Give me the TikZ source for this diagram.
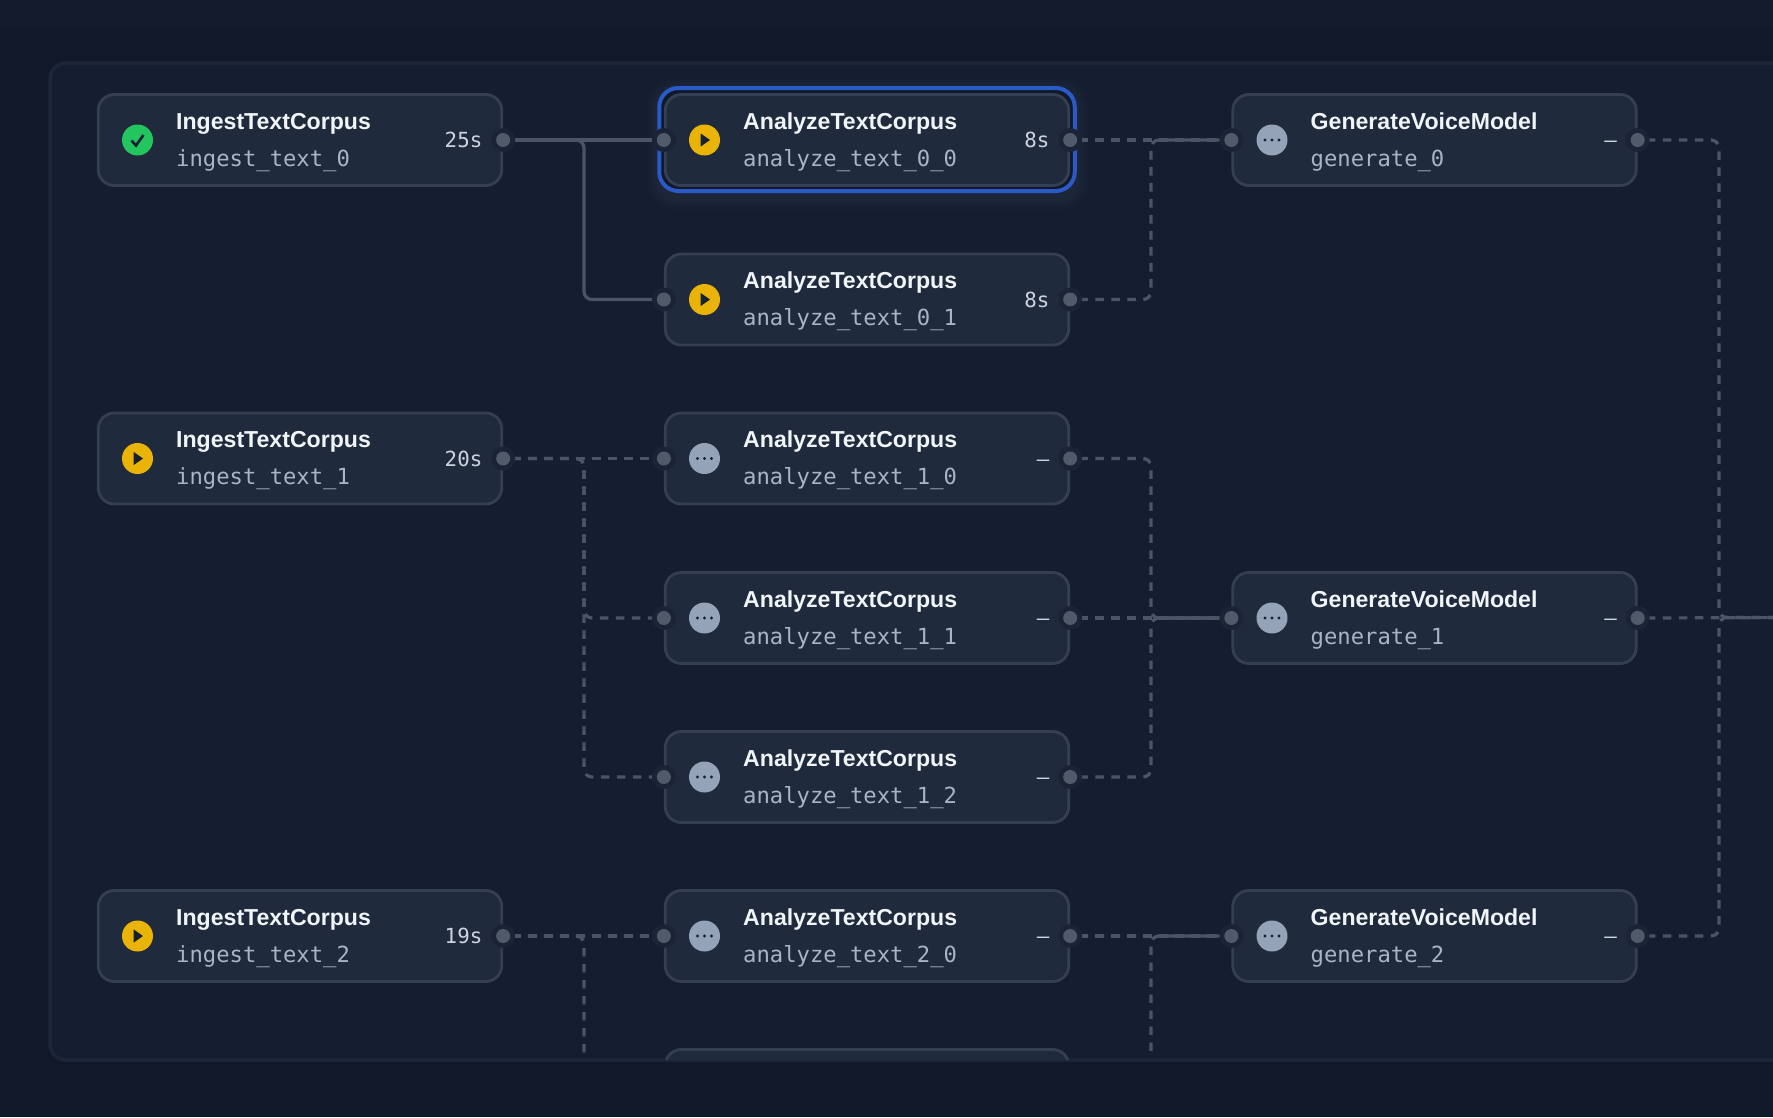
\documentclass[tikz,border=0pt]{standalone}
\usepackage{fontspec}
\setmainfont{Liberation Sans}
\newfontfamily\monof{DejaVu Sans Mono}
\usetikzlibrary{calc}
\definecolor{outerbg}{HTML}{111829}
\definecolor{topbg}{HTML}{131B2C}
\definecolor{panelbg}{HTML}{151E30}
\definecolor{panelln}{HTML}{1C2638}
\definecolor{nodebg}{HTML}{1F2A3C}
\definecolor{nodeln}{HTML}{343F53}
\definecolor{haloc}{HTML}{1A2436}
\definecolor{portc}{HTML}{4F5A6B}
\definecolor{edgec}{HTML}{4A5568}
\definecolor{titlec}{HTML}{F1F5F9}
\definecolor{subc}{HTML}{A8B5C8}
\definecolor{durc}{HTML}{CBD5E1}
\definecolor{okc}{HTML}{22C55E}
\definecolor{runc}{HTML}{EAB308}
\definecolor{waitc}{HTML}{94A3B8}
\definecolor{iconink}{HTML}{152033}
\definecolor{ringc}{HTML}{2A5AC8}
\pgfdeclarelayer{bglayer}
\pgfdeclarelayer{edgelayer}
\pgfsetlayers{bglayer,edgelayer,main}
\tikzset{
  x=1pt,y=-1pt,
  taskbox/.style={draw=nodeln,fill=nodebg,line width=2.8pt,rounded corners=16pt,minimum width=403.5pt,minimum height=91pt,inner sep=0pt},
  halo/.style={circle,fill=haloc,minimum size=24pt,inner sep=0pt},
  portdot/.style={circle,fill=portc,minimum size=14pt,inner sep=0pt},
  iconbase/.style={circle,minimum size=31pt,inner sep=0pt},
  titletext/.style={anchor=base west,inner sep=0pt,text=titlec,font=\fontsize{23.1}{27}\selectfont\bfseries},
  subtext/.style={anchor=base west,inner sep=0pt,text=subc,font=\monof\fontsize{22.2}{26}\selectfont},
  durtext/.style={anchor=base east,inner sep=0pt,text=durc,font=\monof\fontsize{20.8}{24}\selectfont},
  solidedge/.style={draw=edgec,line width=3.2pt,rounded corners=8pt},
  dashedge/.style={draw=edgec,line width=3.2pt,rounded corners=8pt,dash pattern=on 8.5pt off 7.5pt,dash phase=6.8pt},
}
% name, centre x, centre y, title, sub, duration, icon
\newcommand{\taskbody}[7]{%
  \node[taskbox] (#1) at (#2,#3) {};
  \node[halo] (#1-hr) at (#1.east) {};
  \node[portdot] (#1-r) at (#1.east) {};
  \node[iconbase] (#1-i) at ($(#2,#3)+(-162.5,0)$) {};
  #7{#1-i}%
  \node[titletext] (#1-t) at ($(#2,#3)+(-124,-11)$) {#4};
  \node[subtext] (#1-s) at ($(#2,#3)+(-124,26.3)$) {#5};
  \node[durtext] (#1-d) at ($(#2,#3)+(182.5,7.5)$) {#6};
}
\newcommand{\taskcard}[7]{%
  \taskbody{#1}{#2}{#3}{#4}{#5}{#6}{#7}%
  \node[halo] (#1-hl) at (#1.west) {};
  \node[portdot] (#1-l) at (#1.west) {};
}
\newcommand{\iconok}[1]{%
  \fill[okc] (#1) circle (15.5pt);
  \draw[iconink,line width=2.6pt] ($(#1)+(-6,0.5)$) -- ($(#1)+(-1.5,5.5)$) -- ($(#1)+(6,-5)$);
}
\newcommand{\iconrun}[1]{%
  \fill[runc] (#1) circle (15.5pt);
  \fill[iconink] ($(#1)+(-3.8,-6.5)$) -- ($(#1)+(5.5,0)$) -- ($(#1)+(-3.8,6.5)$) -- cycle;
}
\newcommand{\iconwait}[1]{%
  \fill[waitc] (#1) circle (15.5pt);
  \fill[iconink] ($(#1)+(-7,0)$) circle (1.7pt) (#1) circle (1.7pt) ($(#1)+(7,0)$) circle (1.7pt);
}
\newcommand{\straightlink}[3]{\draw[#1] (#2) -- (#3);}
\newcommand{\elbowlink}[4]{\draw[#1] (#2) -- (#2 -| #4) -- (#3 -| #4) -- (#3);}
\begin{document}
\begin{tikzpicture}
\useasboundingbox (0,0) rectangle (1773,1117);
\coordinate (ea) at (584,0);
\coordinate (eb) at (1151,0);
\coordinate (ec) at (1719,0);
\coordinate (out) at (1800,617.5);
\begin{pgfonlayer}{bglayer}
  \fill[outerbg] (0,0) rectangle (1773,1117);
  \fill[topbg] (0,0) rectangle (1773,27);
  \draw[draw=panelln,fill=panelbg,line width=3.5pt,rounded corners=16pt] (50,63) rectangle (1820,1060);
\end{pgfonlayer}
\begin{scope}
  \clip (0,0) rectangle (1773,1059);
  % glow and selection ring of analyze_text_0_0
  \foreach \w in {26,20,14,8}{
    \draw[white,opacity=0.012,line width=\w pt,rounded corners=16pt] (660,92) rectangle (1075,197);
  }
  \node[draw=ringc,fill=outerbg,line width=4pt,rounded corners=19pt,minimum width=415.5pt,minimum height=103pt,inner sep=0pt] (sel) at (867,139.5) {};
  \taskbody{i0}{300}{140}{IngestTextCorpus}{ingest\_text\_0}{25s}{\iconok}
  \taskbody{i1}{300}{458.5}{IngestTextCorpus}{ingest\_text\_1}{20s}{\iconrun}
  \taskbody{i2}{300}{936}{IngestTextCorpus}{ingest\_text\_2}{19s}{\iconrun}
  \taskcard{a00}{867}{140}{AnalyzeTextCorpus}{analyze\_text\_0\_0}{8s}{\iconrun}
  \taskcard{a01}{867}{299.5}{AnalyzeTextCorpus}{analyze\_text\_0\_1}{8s}{\iconrun}
  \taskcard{a10}{867}{458.5}{AnalyzeTextCorpus}{analyze\_text\_1\_0}{–}{\iconwait}
  \taskcard{a11}{867}{618}{AnalyzeTextCorpus}{analyze\_text\_1\_1}{–}{\iconwait}
  \taskcard{a12}{867}{777}{AnalyzeTextCorpus}{analyze\_text\_1\_2}{–}{\iconwait}
  \taskcard{a20}{867}{936}{AnalyzeTextCorpus}{analyze\_text\_2\_0}{–}{\iconwait}
  \node[taskbox] (a21) at (867,1095) {};
  \taskcard{g0}{1434.5}{140}{GenerateVoiceModel}{generate\_0}{–}{\iconwait}
  \taskcard{g1}{1434.5}{618}{GenerateVoiceModel}{generate\_1}{–}{\iconwait}
  \taskcard{g2}{1434.5}{936}{GenerateVoiceModel}{generate\_2}{–}{\iconwait}
\end{scope}
\begin{pgfonlayer}{edgelayer}
  \clip (0,0) rectangle (1773,1056);
  \straightlink{solidedge}{i0-r.center}{a00-l.center}
  \elbowlink{solidedge}{i0-r.center}{a01-l.center}{ea}
  \straightlink{dashedge}{i1-r.center}{a10-l.center}
  \elbowlink{dashedge}{i1-r.center}{a11-l.center}{ea}
  \elbowlink{dashedge}{i1-r.center}{a12-l.center}{ea}
  \straightlink{dashedge}{i2-r.center}{a20-l.center}
  \elbowlink{dashedge}{i2-r.center}{a21.west}{ea}
  \straightlink{dashedge}{a00-r.center}{g0-l.center}
  \elbowlink{dashedge}{a01-r.center}{g0-l.center}{eb}
  \elbowlink{dashedge}{a10-r.center}{g1-l.center}{eb}
  \straightlink{dashedge}{a11-r.center}{g1-l.center}
  \elbowlink{dashedge}{a12-r.center}{g1-l.center}{eb}
  \straightlink{dashedge}{a20-r.center}{g2-l.center}
  \elbowlink{dashedge}{a21.east}{g2-l.center}{eb}
  \elbowlink{dashedge}{g0-r.center}{out}{ec}
  \straightlink{dashedge}{g1-r.center}{out}
  \elbowlink{dashedge}{g2-r.center}{out}{ec}
\end{pgfonlayer}
\end{tikzpicture}
\end{document}
